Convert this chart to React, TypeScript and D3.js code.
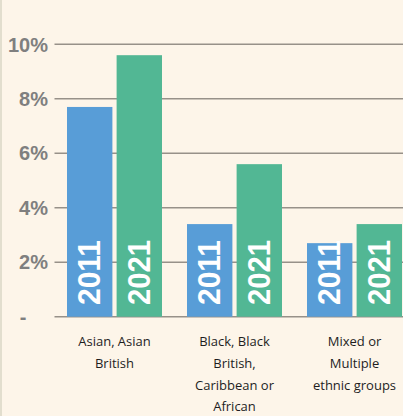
import React from 'react';
import * as d3 from 'd3';

// categories, wrapped the way the source chart wraps them
const categories = ['Asian, Asian British', 'Black, Black British, Caribbean or African', 'Mixed or Multiple ethnic groups'];
const categoryLines = [
  ['Asian, Asian', 'British'],
  ['Black, Black', 'British,', 'Caribbean or', 'African'],
  ['Mixed or', 'Multiple', 'ethnic groups'],
];
const years = ['2011', '2021'];
const values2011 = [7.7, 3.4, 2.7];
const values2021 = [9.6, 5.6, 3.4];
const yTicks = [0, 2, 4, 6, 8, 10];

const width = 403;
const height = 416;
const colors: Record<string, string> = { '2011': '#589dd7', '2021': '#52b794' };

export default function App() {
  const yScale = d3.scaleLinear().domain([0, 10]).range([316.7, 44.3]);
  const xScale = d3.scaleBand().domain(categories).range([54.5, 414.5]);
  const xInner = d3.scaleBand().domain(years).range([12.5, 107.5]).paddingInner(0.085);

  const rows = categories.map((c, i) => ({ cat: c, vals: { '2011': values2011[i], '2021': values2021[i] } as Record<string, number> }));

  return (
    <svg width={width} height={height} style={{ position: 'fixed', left: 0, top: 0, background: '#fdf5e9' }}>
      <rect x={0} y={0} width={width} height={height} fill="#fdf5e9" />
      <line x1={1} x2={1} y1={0} y2={height} stroke="#d9d6c4" strokeWidth={1.5} />

      {/* gridlines + y labels */}
      {yTicks.map(t => (
        <g key={t}>
          <line x1={54.5} x2={width} y1={yScale(t)} y2={yScale(t)} stroke="#979189" strokeWidth={1.5} />
          <text
            x={t === 0 ? 23 : 48}
            y={yScale(t)}
            dy="0.36em"
            textAnchor={t === 0 ? 'middle' : 'end'}
            fontFamily="Liberation Sans, Arial, sans-serif"
            fontWeight="bold"
            fontSize={20}
            fill="#7f7f7f"
          >
            {t === 0 ? '-' : `${t}%`}
          </text>
        </g>
      ))}

      {/* bars */}
      {rows.map(r => (
        <g key={r.cat} transform={`translate(${xScale(r.cat)},0)`}>
          {years.map(y => {
            const bx = xInner(y) as number;
            const bw = xInner.bandwidth();
            const cx = bx + bw / 2;
            return (
              <g key={y}>
                <rect x={bx} y={yScale(r.vals[y])} width={bw} height={yScale(0) - yScale(r.vals[y])} fill={colors[y]} />
                <text
                  transform={`translate(${cx},305) rotate(-90)`}
                  dominantBaseline="central"
                  textAnchor="start"
                  fontFamily="Liberation Sans, Arial, sans-serif"
                  fontWeight="bold"
                  fontSize={31}
                  textLength={65}
                  lengthAdjust="spacingAndGlyphs"
                  fill="#ffffff"
                >
                  {y}
                </text>
              </g>
            );
          })}
        </g>
      ))}

      {/* category labels */}
      {categories.map((c, i) => (
        <text
          key={c}
          x={(xScale(c) as number) + xScale.bandwidth() / 2}
          textAnchor="middle"
          fontFamily="Open Sans, sans-serif"
          fontSize={13}
          fill="#1e1e1e"
        >
          {categoryLines[i].map((line, j) => (
            <tspan key={j} x={(xScale(c) as number) + xScale.bandwidth() / 2} y={341.5 + j * 21.8} dy="0.35em">
              {line}
            </tspan>
          ))}
        </text>
      ))}
    </svg>
  );
}
